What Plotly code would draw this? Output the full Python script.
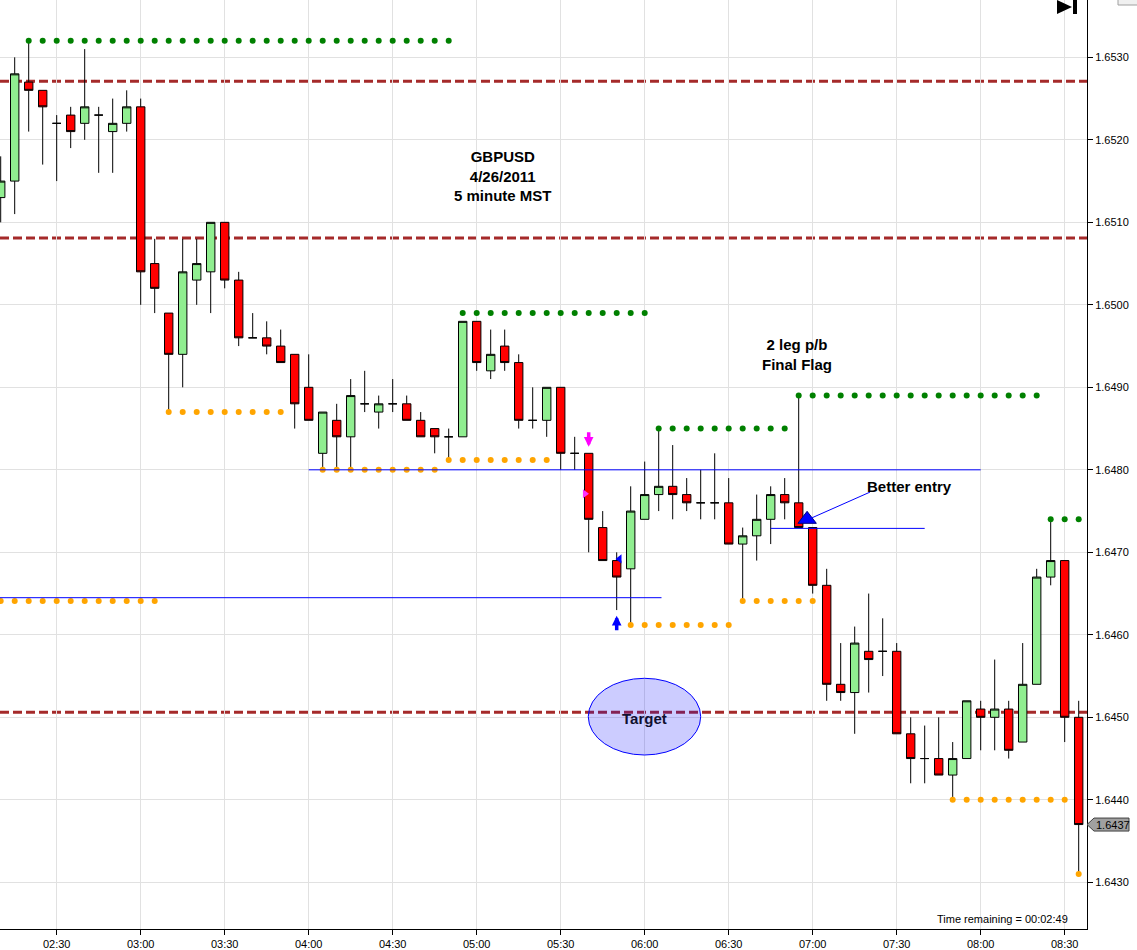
import pandas as pd
import plotly.graph_objects as go

DAY = "2011-04-26 "


def T(hm):
    return pd.Timestamp(DAY + hm)


# ---------------- data ----------------
times = pd.date_range(T("02:10"), T("08:35"), freq="5min")

opens = [
    1.6513, 1.6515, 1.6527, 1.6526, 1.6522, 1.6523, 1.6522, 1.6523, 1.6521, 1.6522,
    1.6524, 1.6505, 1.6499, 1.6494, 1.6503, 1.6504, 1.6510, 1.6503, 1.6496, 1.6496, 1.6495, 1.6494,
    1.6490, 1.6482, 1.6486, 1.6484, 1.6488, 1.6487, 1.6488, 1.6488, 1.6486, 1.6485, 1.6484, 1.6484,
    1.6498, 1.6492, 1.6495, 1.6493, 1.6486, 1.6486, 1.6490, 1.6482, 1.6482, 1.6473, 1.6469, 1.6468,
    1.6474, 1.6477, 1.6478, 1.6477, 1.6476, 1.6476, 1.6476, 1.6471, 1.6472, 1.6474, 1.6477, 1.6476,
    1.6473, 1.6466, 1.6454, 1.6453, 1.6458, 1.6458, 1.6458, 1.6448, 1.6445, 1.6445, 1.6443, 1.6445,
    1.6451, 1.6450, 1.6451, 1.6447, 1.6454, 1.6467, 1.6469, 1.6450,
]
highs = [
    1.6518, 1.6530, 1.6532, 1.6526, 1.6523, 1.6524, 1.6531, 1.6524, 1.6525, 1.6526,
    1.6525, 1.6508, 1.6499, 1.6508, 1.6508, 1.6510, 1.6510, 1.6504, 1.6499, 1.6498, 1.6497, 1.6494,
    1.6494, 1.6487, 1.6488, 1.6491, 1.6492, 1.6489, 1.6491, 1.6489, 1.6487, 1.6485, 1.6485, 1.6498,
    1.6498, 1.6497, 1.6497, 1.6494, 1.6490, 1.6490, 1.6490, 1.6484, 1.6482, 1.6475, 1.6470, 1.6478,
    1.6481, 1.6485, 1.6483, 1.6479, 1.6480, 1.6482, 1.6479, 1.6473, 1.6477, 1.6478, 1.6479, 1.6489,
    1.6473, 1.6468, 1.6459, 1.6461, 1.6465, 1.6462, 1.6459, 1.6450, 1.6449, 1.6450, 1.6447, 1.6452,
    1.6452, 1.6457, 1.6452, 1.6459, 1.6468, 1.6474, 1.6469, 1.6452,
]
lows = [
    1.6510, 1.6511, 1.6521, 1.6517, 1.6515, 1.6519, 1.6520, 1.6516, 1.6516, 1.6521,
    1.6500, 1.6499, 1.6487, 1.6490, 1.6500, 1.6499, 1.6502, 1.6495, 1.6496, 1.6494, 1.6493, 1.6485,
    1.6486, 1.6480, 1.6480, 1.6480, 1.6487, 1.6485, 1.6487, 1.6486, 1.6484, 1.6482, 1.64812, 1.6484,
    1.6492, 1.6491, 1.6492, 1.6485, 1.6485, 1.6484, 1.6480, 1.6480, 1.6470, 1.6469, 1.6463, 1.64612,
    1.6474, 1.6475, 1.6474, 1.6475, 1.6474, 1.6474, 1.6471, 1.64641, 1.6469, 1.6471, 1.6474, 1.6473,
    1.6465, 1.6452, 1.6452, 1.6448, 1.6453, 1.6455, 1.6448, 1.6442, 1.6442, 1.6443, 1.6440, 1.6445,
    1.6446, 1.6446, 1.6445, 1.6447, 1.6454, 1.6466, 1.6447, 1.6431,
]
closes = [
    1.6515, 1.6528, 1.6526, 1.6524, 1.6522, 1.6521, 1.6524, 1.6523, 1.6522, 1.6524,
    1.6504, 1.6502, 1.6494, 1.6504, 1.6505, 1.6510, 1.6503, 1.6496, 1.6496, 1.6495, 1.6493, 1.6488,
    1.6486, 1.6487, 1.6484, 1.6489, 1.6488, 1.6488, 1.6488, 1.6486, 1.6484, 1.6484, 1.6484, 1.6498,
    1.6493, 1.6494, 1.6493, 1.6486, 1.6486, 1.6490, 1.6482, 1.6482, 1.6474, 1.6469, 1.6467, 1.6475,
    1.6477, 1.6478, 1.6477, 1.6476, 1.6476, 1.6476, 1.6471, 1.6472, 1.6474, 1.6477, 1.6476, 1.6473,
    1.6466, 1.6454, 1.6453, 1.6459, 1.6457, 1.6458, 1.6448, 1.6445, 1.6445, 1.6443, 1.6445, 1.6452,
    1.6450, 1.6451, 1.6446, 1.6454, 1.6467, 1.6469, 1.6450, 1.6437,
]

# resistance (green) and support (orange) dot segments
res_level = [1.6532, 1.6499, 1.6485, 1.6489, 1.6474]
res_from = ["02:20", "04:55", "06:05", "06:55", "08:25"]
res_to = ["04:50", "06:00", "06:50", "08:20", "08:35"]

sup_level = [1.64641, 1.6487, 1.6480, 1.64812, 1.64612, 1.64641, 1.6440, 1.6431]
sup_from = ["02:10", "03:10", "04:05", "04:50", "05:55", "06:35", "07:50", "08:35"]
sup_to = ["03:05", "03:50", "04:45", "05:25", "06:30", "07:00", "08:30", "08:35"]

# pivot levels (dashed) and drawn blue lines
pivot_levels = [1.65271, 1.65081, 1.64506]
blue_level = [1.6480, 1.64645, 1.64729]
blue_from = ["04:00", "02:00", "06:45"]
blue_to = ["08:00", "06:06", "07:40"]

last_price = 1.6437
y_ticks_fmt = ".4f"

# ---------------- figure ----------------
FONT = "Arial, 'Liberation Sans', sans-serif"


def seg_points(levels, starts, ends):
    xs, ys = [], []
    for lv, s, e in zip(levels, starts, ends):
        r = pd.date_range(T(s), T(e), freq="5min")
        xs += list(r)
        ys += [lv] * len(r)
    return xs, ys


fig = go.Figure()

fig.add_trace(go.Candlestick(
    x=times, open=opens, high=highs, low=lows, close=closes,
    increasing=dict(fillcolor="#90EE90", line=dict(color="black", width=1)),
    decreasing=dict(fillcolor="#FF0000", line=dict(color="black", width=1)),
    whiskerwidth=0, showlegend=False, hoverinfo="skip",
))

rx, ry = seg_points(res_level, res_from, res_to)
fig.add_trace(go.Scatter(x=rx, y=ry, mode="markers", showlegend=False, hoverinfo="skip",
                         marker=dict(color="#008000", size=6)))
sx, sy = seg_points(sup_level, sup_from, sup_to)
fig.add_trace(go.Scatter(x=sx, y=sy, mode="markers", showlegend=False, hoverinfo="skip",
                         marker=dict(color="#FFA500", size=6)))

# signal markers
fig.add_trace(go.Scatter(x=[T("05:38:40")], y=[1.64771], mode="markers", showlegend=False,
                         hoverinfo="skip", marker=dict(symbol="triangle-right", size=8, color="#FF33FF")))
fig.add_trace(go.Scatter(x=[T("05:51:00")], y=[1.64692], mode="markers", showlegend=False,
                         hoverinfo="skip", marker=dict(symbol="triangle-left", size=8, color="#0000FF")))
fig.add_trace(go.Scatter(x=[T("06:58:00")], y=[1.64740], mode="markers", showlegend=False,
                         hoverinfo="skip", marker=dict(symbol="triangle-up", size=16, color="#0000FF",
                                                       line=dict(color="#000080", width=1))))

shapes = []
for lv in pivot_levels:
    shapes.append(dict(type="line", xref="paper", x0=0, x1=1, yref="y", y0=lv, y1=lv,
                       line=dict(color="#A52A2A", width=3, dash="9px,4px"), layer="between"))
shapes.append(dict(type="circle", xref="x", yref="y", x0=T("05:39:51"), x1=T("06:20:00"),
                   y0=1.644543, y1=1.645473, fillcolor="rgba(0,0,255,0.2)",
                   line=dict(color="#0000FF", width=1), layer="between"))
for lv, a, b in zip(blue_level, blue_from, blue_to):
    shapes.append(dict(type="line", xref="x", yref="y", x0=T(a), x1=T(b), y0=lv, y1=lv,
                       line=dict(color="#0000FF", width=1), layer="above"))
shapes.append(dict(type="line", xref="x", yref="y", x0=T("07:20:28"), y0=1.64773,
                   x1=T("06:57:52"), y1=1.64739, line=dict(color="#0000FF", width=1), layer="above"))
# last price flag
shapes.append(dict(type="path", xref="paper", yref="y", xanchor=1, yanchor=last_price,
                   xsizemode="pixel", ysizemode="pixel",
                   path="M0,0 L7,6.5 L42,6.5 L42,-6.5 L7,-6.5 Z",
                   fillcolor="#A0A0A0", line=dict(color="#404040", width=1), layer="above"))
# top-right "go to end" icon
shapes.append(dict(type="path", xref="paper", yref="paper", xanchor=1, yanchor=1,
                   xsizemode="pixel", ysizemode="pixel",
                   path="M-30,0 L-15,-7 L-30,-14 Z", fillcolor="black", line=dict(width=0), layer="above"))
shapes.append(dict(type="rect", xref="paper", yref="paper", xanchor=1, yanchor=1,
                   xsizemode="pixel", ysizemode="pixel", x0=-14, x1=-10, y0=0, y1=-14,
                   fillcolor="black", line=dict(width=0), layer="above"))
shapes.append(dict(type="rect", xref="paper", yref="paper", xanchor=1, yanchor=1,
                   xsizemode="pixel", ysizemode="pixel", x0=31, x1=52, y0=2, y1=-5,
                   fillcolor="#F0F0F0", line=dict(color="#A0A0A0", width=1), layer="above"))

annotations = [
    dict(x=T("05:09:24"), y=1.65156, xref="x", yref="y", showarrow=False,
         text="<b>GBPUSD<br>4/26/2011<br>5 minute MST</b>", align="center",
         font=dict(family=FONT, size=15, color="black")),
    dict(x=T("06:54:24"), y=1.64940, xref="x", yref="y", showarrow=False,
         text="<b>2 leg p/b<br>Final Flag</b>", align="center",
         font=dict(family=FONT, size=15, color="black")),
    dict(x=T("07:18:40"), y=1.64780, xref="x", yref="y", showarrow=False, xanchor="left",
         text="<b>Better entry</b>", font=dict(family=FONT, size=15, color="black")),
    dict(x=T("06:00:06"), y=1.64498, xref="x", yref="y", showarrow=False,
         text="<b>Target</b>", font=dict(family=FONT, size=15, color="#101030")),
    dict(x=0.9844, y=0.0112, xref="paper", yref="paper", showarrow=False,
         xanchor="right", yanchor="middle", text="Time remaining = 00:02:49",
         font=dict(family=FONT, size=11, color="black")),
    dict(x=1, y=last_price, xref="paper", yref="y", showarrow=False, xanchor="left",
         xshift=7, yanchor="middle", text=format(last_price, y_ticks_fmt),
         font=dict(family=FONT, size=11, color="black")),
    dict(x=T("05:40"), y=1.64828, xref="x", yref="y", ax=0, ay=-16, showarrow=True, text="",
         arrowhead=2, arrowsize=0.55, arrowwidth=3.5, arrowcolor="#FF00FF"),
    dict(x=T("05:50"), y=1.64623, xref="x", yref="y", ax=0, ay=16, showarrow=True, text="",
         arrowhead=2, arrowsize=0.55, arrowwidth=3.5, arrowcolor="#0000FF"),
]

fig.update_layout(
    width=1137, height=950,
    margin=dict(l=0, r=50, t=0, b=21, pad=0),
    paper_bgcolor="white", plot_bgcolor="white",
    font=dict(family=FONT, size=11, color="black"),
    boxgap=0.4, boxgroupgap=0,
    showlegend=False,
    shapes=shapes, annotations=annotations,
    xaxis=dict(
        type="date", range=[T("02:09:45"), T("08:37:58")],
        tickformat="%H:%M", dtick=1800000, tick0=T("02:30"),
        showgrid=True, gridcolor="#E1E1E1", gridwidth=1,
        showline=True, linecolor="black", linewidth=1,
        ticks="outside", ticklen=5, tickcolor="black",
        tickfont=dict(family=FONT, size=11, color="black"),
        rangeslider=dict(visible=False), zeroline=False,
    ),
    yaxis=dict(
        side="right", range=[1.642434, 1.653695], dtick=0.001, tick0=1.643,
        tickformat=y_ticks_fmt,
        showgrid=True, gridcolor="#E1E1E1", gridwidth=1,
        showline=True, linecolor="black", linewidth=1,
        ticks="outside", ticklen=5, tickcolor="black",
        tickfont=dict(family=FONT, size=11, color="black"), zeroline=False,
    ),
)

fig.write_html("out.html", config={"displayModeBar": False},
               post_script="document.body.style.margin='0';document.body.style.overflow='hidden';")
